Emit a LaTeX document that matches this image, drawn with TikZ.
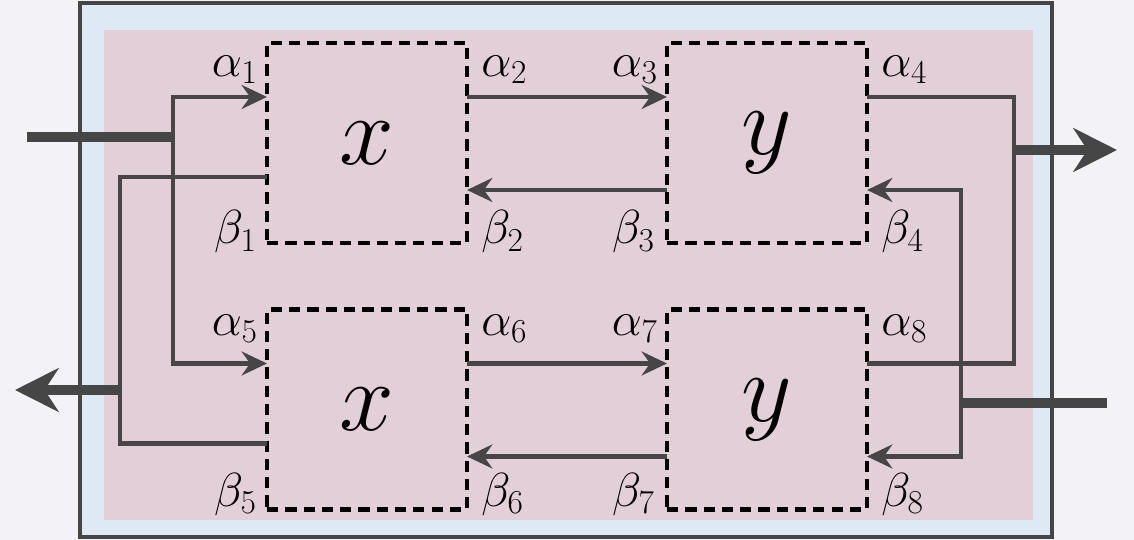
\RequirePackage{fix-cm}
\documentclass[tikz,border=0pt]{standalone}
\usepackage{amsmath}
\usetikzlibrary{calc, positioning, arrows.meta}
\definecolor{fondo}{RGB}{243,242,247}
\definecolor{marco}{RGB}{69,69,69}
\definecolor{celeste}{RGB}{221,234,246}
\definecolor{rosado}{RGB}{227,207,215}
\definecolor{cable}{RGB}{70,70,70}

\begin{document}
\begin{tikzpicture}[x=0.025cm, y=-0.025cm,
  %% bloques punteados
  bloque/.style={
    rectangle, draw=black, line width=3.2pt,
    dash pattern=on 8pt off 5pt,
    minimum width=5cm, minimum height=5cm,
    inner sep=0pt, outer sep=0pt,
    font=\fontsize{70}{80}\selectfont
  },
  etiq/.style={
    font=\fontsize{34}{40}\selectfont, inner sep=0pt
  },
  hilo/.style={draw=cable, line width=3pt},
  flecha/.style={
    hilo, -{Stealth[length=18pt, width=17pt, inset=6pt]}
  },
  %% entradas y salidas gruesas
  bus/.style={draw=cable, line width=7pt},
  busflecha/.style={
    bus, -{Stealth[length=31pt, width=31pt, inset=10pt]}
  }
]

%% ── Fondo y marco ──────────────────────────────────────────────────────────
\fill[fondo] (0,0) rectangle (1134,540);
\draw[draw=marco, fill=celeste, line width=3.3pt] (80,3) rectangle (1052,537);
\fill[rosado] (104,30) rectangle (1033,520);

%% ── Bloques ────────────────────────────────────────────────────────────────
\node[bloque] (xa) at (367,143) {$x$};
\node[bloque] (ya) at (767,143) {$y$};
\node[bloque] (xb) at (367,409.5) {$x$};
\node[bloque] (yb) at (767,409.5) {$y$};

%% puertos
\coordinate (a1) at ($(xa.north west)+(0,54)$);
\coordinate (b1) at ($(xa.north west)+(0,134)$);
\coordinate (a2) at ($(xa.north east)+(0,54)$);
\coordinate (b2) at ($(xa.north east)+(0,147)$);
\coordinate (a3) at ($(ya.north west)+(0,54)$);
\coordinate (b3) at ($(ya.north west)+(0,147)$);
\coordinate (a4) at ($(ya.north east)+(0,54)$);
\coordinate (b4) at ($(ya.north east)+(0,147)$);
\coordinate (a5) at ($(xb.north west)+(0,54)$);
\coordinate (b5) at ($(xb.north west)+(0,134)$);
\coordinate (a6) at ($(xb.north east)+(0,54)$);
\coordinate (b6) at ($(xb.north east)+(0,147)$);
\coordinate (a7) at ($(yb.north west)+(0,54)$);
\coordinate (b7) at ($(yb.north west)+(0,147)$);
\coordinate (a8) at ($(yb.north east)+(0,54)$);
\coordinate (b8) at ($(yb.north east)+(0,147)$);

%% ── Etiquetas ──────────────────────────────────────────────────────────────
\node[etiq, anchor=east] at ($(xa.north west)+(-9,27)$)  {$\alpha_1$};
\node[etiq, anchor=east] at ($(xa.south west)+(-10,-11)$) {$\beta_1$};
\node[etiq, anchor=west] at ($(xa.north east)+(14,27)$)   {$\alpha_2$};
\node[etiq, anchor=west] at ($(xa.south east)+(14,-11)$)  {$\beta_2$};
\node[etiq, anchor=east] at ($(ya.north west)+(-9,27)$)  {$\alpha_3$};
\node[etiq, anchor=east] at ($(ya.south west)+(-12,-11)$) {$\beta_3$};
\node[etiq, anchor=west] at ($(ya.north east)+(14,27)$)   {$\alpha_4$};
\node[etiq, anchor=west] at ($(ya.south east)+(14,-11)$)  {$\beta_4$};
\node[etiq, anchor=east] at ($(xb.north west)+(-9,19)$)  {$\alpha_5$};
\node[etiq, anchor=east] at ($(xb.south west)+(-10,-15)$) {$\beta_5$};
\node[etiq, anchor=west] at ($(xb.north east)+(14,19)$)   {$\alpha_6$};
\node[etiq, anchor=west] at ($(xb.south east)+(14,-15)$)  {$\beta_6$};
\node[etiq, anchor=east] at ($(yb.north west)+(-9,19)$)  {$\alpha_7$};
\node[etiq, anchor=east] at ($(yb.south west)+(-12,-15)$) {$\beta_7$};
\node[etiq, anchor=west] at ($(yb.north east)+(14,19)$)   {$\alpha_8$};
\node[etiq, anchor=west] at ($(yb.south east)+(14,-15)$)  {$\beta_8$};

%% ── Uniones ────────────────────────────────────────────────────────────────
\coordinate (inL)  at (27,137);
\coordinate (jL)   at (173,137);
\coordinate (kL)   at (120,390);
\coordinate (outL) at (15,390);
\coordinate (kR)   at (1014,150);
\coordinate (outR) at (1117,150);
\coordinate (jR)   at (961,403);
\coordinate (inR)  at (1107,403);

%% ────────────────── FLECHAS ────────────────────────────────────────────────

%% entrada izquierda -> alpha1, alpha5
\draw[flecha] (jL) |- (a1);
\draw[flecha] (jL) |- (a5);
\draw[bus] (inL) -- (jL);

%% beta1, beta5 -> salida izquierda
\draw[hilo] (b1) -| (kL) |- (b5);
\draw[busflecha] (kL) -- (outL);

%% entre bloques
\draw[flecha] (a2) -- (a3);
\draw[flecha] (b3) -- (b2);
\draw[flecha] (a6) -- (a7);
\draw[flecha] (b7) -- (b6);

%% alpha4, alpha8 -> salida derecha
\draw[hilo] (a4) -| (kR) |- (a8);
\draw[busflecha] (kR) -- (outR);

%% entrada derecha -> beta4, beta8
\draw[flecha] (jR) |- (b4);
\draw[flecha] (jR) |- (b8);
\draw[bus] (inR) -- (jR);

\end{tikzpicture}
\end{document}
